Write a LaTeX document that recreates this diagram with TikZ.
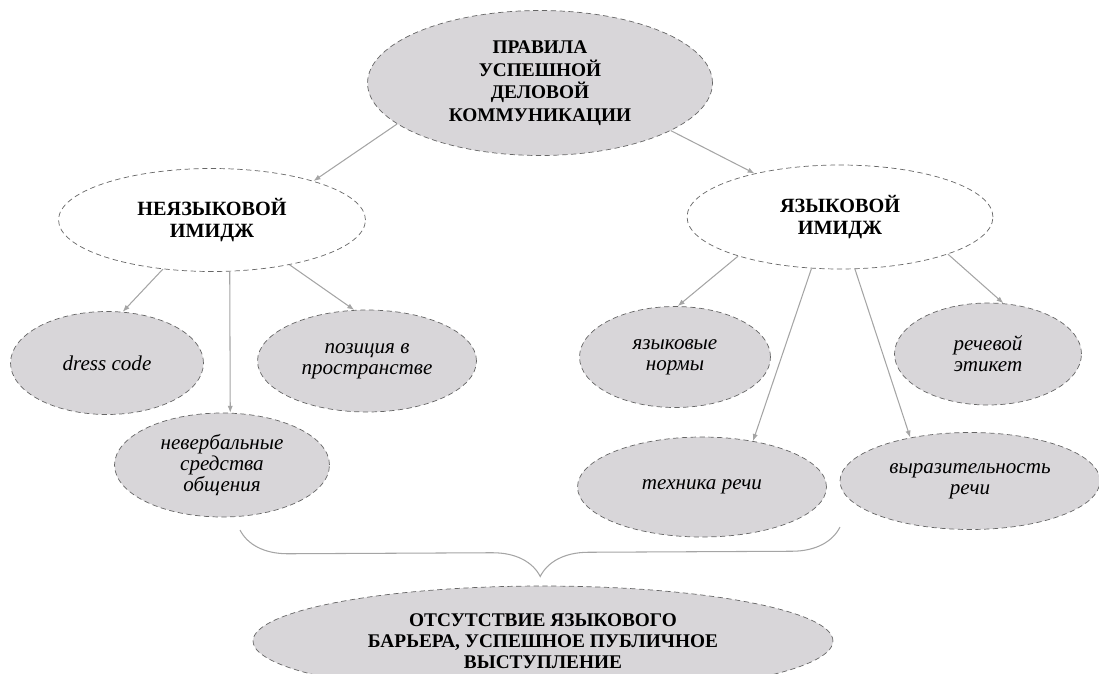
\documentclass[tikz,border=0pt]{standalone}
\usepackage{fontspec}
\setmainfont{Liberation Serif}
\usetikzlibrary{shapes.geometric,arrows.meta,decorations.pathreplacing}
\definecolor{grayfill}{RGB}{216,214,217}
\definecolor{linkgray}{RGB}{165,165,165}

\begin{document}
\begin{tikzpicture}[x=.02cm,y=-.02cm,
		oval/.style={ellipse,draw=black!60,densely dashed,line width=.4pt,inner sep=0pt,align=center},
		head/.style={oval,fill=grayfill,font=\bfseries\fontsize{11}{12.8}\selectfont},
		branch/.style={oval,fill=white,font=\bfseries\fontsize{11.5}{12.5}\selectfont},
		leaf/.style={oval,fill=grayfill,font=\itshape\fontsize{12}{12}\selectfont},
		link/.style={draw=linkgray,line width=.6pt,-{Latex[length=4pt,width=3pt]}}]
	\clip (0,0) rectangle (1099,673);
	\node[head,minimum width=6.9cm,minimum height=2.9cm] (pravila) at (540,83)
		{ПРАВИЛА\\УСПЕШНОЙ\\ДЕЛОВОЙ\\КОММУНИКАЦИИ};
	\node[branch,minimum width=6.14cm,minimum height=2.06cm] (neyaz) at (212,220)
		{НЕЯЗЫКОВОЙ\\ИМИДЖ};
	\node[branch,minimum width=6.12cm,minimum height=2.08cm] (yaz) at (840,217)
		{ЯЗЫКОВОЙ\\ИМИДЖ};
	\node[leaf,minimum width=3.86cm,minimum height=2.06cm] (dress) at (107,363)
		{dress code};
	\node[leaf,minimum width=4.38cm,minimum height=2.04cm] (poz) at (367,361)
		{позиция в\\пространстве};
	\node[leaf,minimum width=4.3cm,minimum height=2.08cm] (neverb) at (222,465)
		{невербальные\\средства\\общения};
	\node[leaf,minimum width=3.82cm,minimum height=2.02cm] (normy) at (675,357)
		{языковые\\нормы};
	\node[leaf,minimum width=3.74cm,minimum height=2.04cm] (etiket) at (988,354)
		{речевой\\этикет};
	\node[leaf,minimum width=4.98cm,minimum height=2cm] (tehnika) at (702,487)
		{техника речи};
	\node[leaf,minimum width=5.2cm,minimum height=1.94cm] (vyraz) at (970,481)
		{выразительность\\речи};
	\node[head,minimum width=11.6cm,minimum height=2.2cm,font=\bfseries\fontsize{11}{12}\selectfont] (itog) at (543,641)
		{ОТСУТСТВИЕ ЯЗЫКОВОГО\\БАРЬЕРА, УСПЕШНОЕ ПУБЛИЧНОЕ\\ВЫСТУПЛЕНИЕ};
	\draw[link] (pravila.196) -- (neyaz.21);
	\draw[link] (pravila.-20) -- (yaz.153);
	\draw[link] (neyaz.225) -- (dress.73);
	\draw[link] (neyaz.-71) -- (neverb.81);
	\draw[link] (neyaz.-30) -- (poz.104);
	\draw[link] (yaz.201) -- (normy.87);
	\draw[link] (yaz.241) -- (tehnika.42);
	\draw[link] (yaz.-74) -- (vyraz.144);
	\draw[link] (yaz.-19) -- (etiket.73);
	\coordinate (skobaL) at (240,530);
	\coordinate (skobaR) at (840,527);
	\draw[linkgray,line width=.6pt,decorate,decoration={brace,mirror,amplitude=.96cm}]
		(skobaL) -- (skobaR);
\end{tikzpicture}
\end{document}
